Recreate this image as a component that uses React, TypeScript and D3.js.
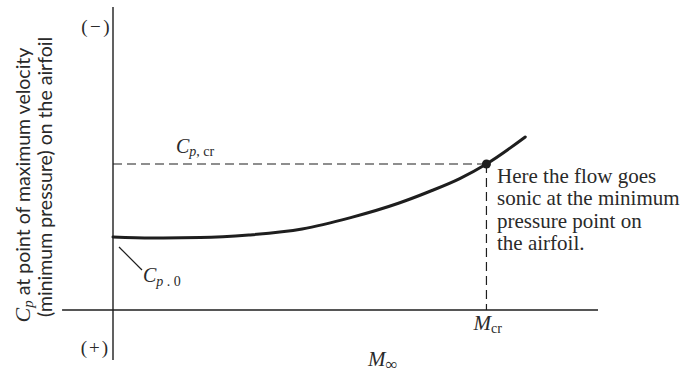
import React from "react";
import * as d3 from "d3";

const machValues = [0, 0.08, 0.18, 0.28, 0.39, 0.49, 0.59, 0.65, 0.715, 0.77, 0.85];
const cpValues = [-0.365, -0.36, -0.362, -0.375, -0.405, -0.462, -0.535, -0.59, -0.657, -0.73, -0.865];
const machCritical = 0.77;
const cpCritical = -0.73;
const noteLines = ["Here the flow goes", "sonic at the minimum", "pressure point on", "the airfoil."];

const W = 684;
const H = 373;

export default function App() {
  const x = d3.scaleLinear().domain([0, 1]).range([113, 598]);
  const y = d3.scaleLinear().domain([0, -1]).range([310, 110]);
  const pts = machValues.map((m, i) => [m, cpValues[i]] as [number, number]);
  const line = d3
    .line<[number, number]>()
    .x((d) => x(d[0]))
    .y((d) => y(d[1]))
    .curve(d3.curveMonotoneX);
  const ink = "#1e1e1e";
  const txt = "#2a2a2a";
  const serif = "'Liberation Serif', 'Times New Roman', serif";
  const sans = "Lato, 'Open Sans', sans-serif";
  const cx = x(machCritical);
  const cy = y(cpCritical);
  const y0 = y(cpValues[0]);
  return (
    <svg
      width={W}
      height={H}
      style={{ position: "absolute", left: 0, top: 0, background: "#fff" }}
    >
      {/* axes */}
      <line x1={x(0)} x2={x(0)} y1={y(-1.515)} y2={y(0.25)} stroke={ink} strokeWidth={1.4} />
      <line x1={x(-0.105)} x2={x(1)} y1={y(0)} y2={y(0)} stroke={ink} strokeWidth={1.4} />
      {/* dashed guides */}
      <line x1={x(0)} x2={cx} y1={cy} y2={cy} stroke={ink} strokeWidth={1.2} strokeDasharray="9 5" />
      <line x1={cx} x2={cx} y1={cy} y2={y(0)} stroke={ink} strokeWidth={1.2} strokeDasharray="9 5" />
      {/* curve */}
      <path d={line(pts) || ""} fill="none" stroke={ink} strokeWidth={3} strokeLinecap="round" />
      <circle cx={cx} cy={cy} r={4.5} fill={ink} />
      {/* leader for Cp0 */}
      <line x1={x(0) + 6} y1={y0 + 10} x2={x(0) + 29} y2={y0 + 33} stroke={ink} strokeWidth={1.2} />
      {/* sign labels */}
      <text x={112} y={33} textAnchor="end" fontFamily={serif} fontSize={19} letterSpacing={2.5} fill={txt}>(−)</text>
      <text x={110} y={354} textAnchor="end" fontFamily={serif} fontSize={19} letterSpacing={2} fill={txt}>(+)</text>
      {/* Cp,cr */}
      <text x={176} y={153} fontFamily={serif} fill={txt}>
        <tspan fontStyle="italic" fontSize={20}>C</tspan>
        <tspan fontStyle="italic" fontSize={14} dy={3}>p</tspan>
        <tspan fontSize={14}>, cr</tspan>
      </text>
      {/* Cp,0 */}
      <text x={143} y={y0 + 45} fontFamily={serif} fill={txt}>
        <tspan fontStyle="italic" fontSize={20}>C</tspan>
        <tspan fontStyle="italic" fontSize={14} dy={4}>p</tspan>
        <tspan fontSize={14}> . 0</tspan>
      </text>
      {/* Mcr */}
      <text x={cx - 13} y={330} fontFamily={serif} fill={txt}>
        <tspan fontStyle="italic" fontSize={21}>M</tspan>
        <tspan fontSize={14} dy={3}>cr</tspan>
      </text>
      {/* M infinity */}
      <text x={368} y={366} fontFamily={serif} fill={txt}>
        <tspan fontStyle="italic" fontSize={21}>M</tspan>
        <tspan fontSize={17} dy={4}>∞</tspan>
      </text>
      {/* note */}
      <text fontFamily={serif} fontSize={21} fill={txt}>
        {noteLines.map((l, i) => (
          <tspan key={i} x={497} y={183 + i * 22.3}>{l}</tspan>
        ))}
      </text>
      {/* y label */}
      <text transform="translate(30,185) rotate(-90)" textAnchor="middle" fontFamily={sans} fontSize={19.5} fill={txt}>
        <tspan fontStyle="italic" fontFamily={serif} fontSize={22}>C</tspan>
        <tspan fontStyle="italic" fontFamily={serif} fontSize={15} dy={3}>p</tspan>
        <tspan dy={-3}> at point of maximum velocity</tspan>
      </text>
      <text transform="translate(52,177) rotate(-90)" textAnchor="middle" fontFamily={sans} fontSize={19.5} fill={txt}>
        (minimum pressure) on the airfoil
      </text>
    </svg>
  );
}
